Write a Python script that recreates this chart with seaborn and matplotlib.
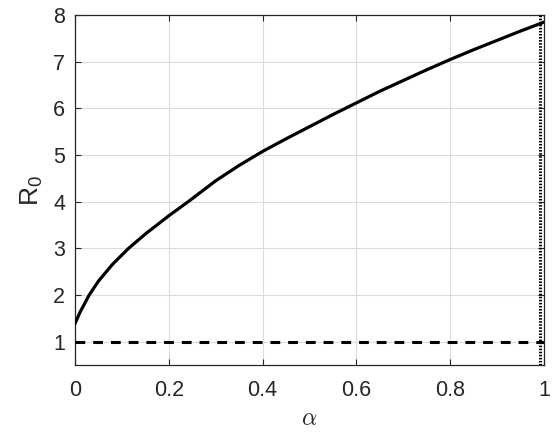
import numpy as np
import pandas as pd
import matplotlib
matplotlib.use("Agg")
import matplotlib.pyplot as plt
import seaborn as sns

# Data
alpha = [0.0, 0.01, 0.03, 0.05, 0.08, 0.114, 0.15, 0.2, 0.241, 0.3, 0.35, 0.4,
         0.45, 0.5, 0.55, 0.6, 0.65, 0.7, 0.75, 0.8, 0.85, 0.9, 0.95, 1.0]
r0 = [1.39, 1.62, 2.0, 2.3, 2.66, 3.0, 3.31, 3.7, 4.0, 4.45, 4.78, 5.08,
      5.35, 5.61, 5.87, 6.12, 6.37, 6.6, 6.83, 7.05, 7.26, 7.46, 7.66, 7.85]
threshold = 1.0
alpha_max = 0.992
xticks = [0, 0.2, 0.4, 0.6, 0.8, 1]
xtick_labels = ["0", "0.2", "0.4", "0.6", "0.8", "1"]
yticks = [1, 2, 3, 4, 5, 6, 7, 8]

df = pd.DataFrame({"alpha": alpha, "R0": r0})

sns.set_theme(style="ticks")
plt.rcParams["font.family"] = ["Liberation Sans", "DejaVu Sans"]
plt.rcParams["mathtext.fontset"] = "cm"

fig = plt.figure(figsize=(5.52, 4.34), dpi=100)
ax = fig.add_axes([0.136, 0.159, 0.8495, 0.806])

sns.lineplot(data=df, x="alpha", y="R0", ax=ax, color="black", lw=2.3, zorder=3)
ax.axhline(threshold, color="black", lw=2.2, ls=(0, (3.2, 2.6)), zorder=3)
ax.axvline(alpha_max, color="black", lw=2.2, ls=(0, (0.5, 0.5)), zorder=3)

ax.set_xlim(0, 1)
ax.set_ylim(0.5, 8)
ax.set_xticks(xticks)
ax.set_xticklabels(xtick_labels)
ax.set_yticks(yticks)
ax.grid(True, color="#dcdcdc", lw=0.8)
ax.set_axisbelow(True)

ax.tick_params(direction="in", top=True, right=True, length=4, width=0.8,
               labelsize=15.5, labelcolor="#262626", color="#262626")
ax.tick_params(axis="x", pad=11)
ax.tick_params(axis="y", pad=7)
for s in ax.spines.values():
    s.set_color("#262626")
    s.set_linewidth(0.9)
    s.set_visible(True)

ax.set_xlabel(r"$\alpha$", fontsize=17, color="#262626", labelpad=5)
ax.set_ylabel(r"$\mathregular{R_0}$", fontsize=19, color="#262626", labelpad=6)

fig.savefig("out.png", dpi=100, facecolor="white")
